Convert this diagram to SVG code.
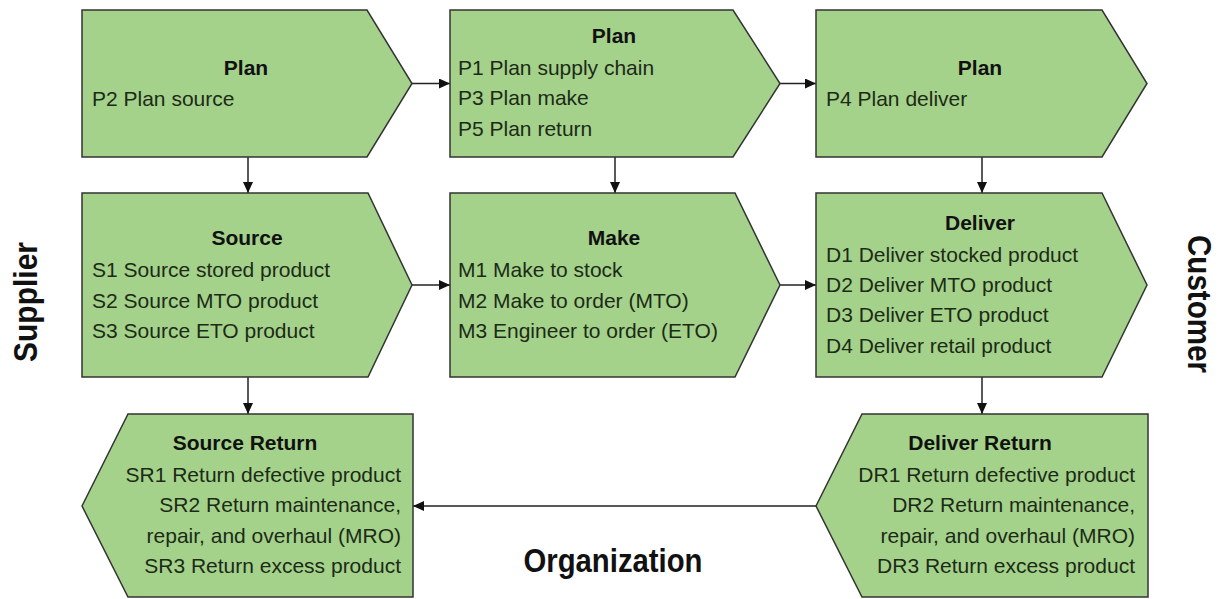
<svg xmlns="http://www.w3.org/2000/svg" width="1221" height="599" viewBox="0 0 1221 599">
<style>
.box{fill:#a4d28b;stroke:#333;stroke-width:1.5}
.t{font-family:"Liberation Sans",Arial,sans-serif;font-size:21px;fill:#1d2a17}
.h{font-family:"Liberation Sans",Arial,sans-serif;font-size:21px;font-weight:bold;fill:#111;text-anchor:middle}
.r{text-anchor:end}
.lab{font-family:"Liberation Sans",Arial,sans-serif;font-size:34px;font-weight:bold;fill:#111;text-anchor:middle}
.c{stroke:#222;stroke-width:1.5;fill:none;marker-end:url(#ah)}
</style>
<defs>
<marker id="ah" markerUnits="userSpaceOnUse" markerWidth="12" markerHeight="10" refX="11" refY="5" orient="auto">
<path d="M0,0 L11,5 L0,10 Z" fill="#111"/>
</marker>
</defs>
<rect width="1221" height="599" fill="#fff"/>
<g id="connectors">
<line class="c" x1="412" y1="83.5" x2="450" y2="83.5"/>
<line class="c" x1="780" y1="83.5" x2="816" y2="83.5"/>
<line class="c" x1="248" y1="157" x2="248" y2="193"/>
<line class="c" x1="615" y1="157" x2="615" y2="193"/>
<line class="c" x1="982" y1="157" x2="982" y2="193"/>
<line class="c" x1="412" y1="285" x2="450" y2="285"/>
<line class="c" x1="780" y1="285" x2="816" y2="285"/>
<line class="c" x1="248" y1="377" x2="248" y2="414"/>
<line class="c" x1="982" y1="377" x2="982" y2="414"/>
<line class="c" x1="816" y1="506" x2="413" y2="506"/>
</g>
<g id="plan-source">
<polygon class="box" points="82,10 367,10 412,83.5 367,157 82,157"/>
<text class="h" x="246" y="75">Plan</text>
<text class="t" x="92" y="106">P2 Plan source</text>
</g>
<g id="plan-main">
<polygon class="box" points="450,10 733,10 780,83.5 733,157 450,157"/>
<text class="h" x="614" y="43">Plan</text>
<text class="t" x="458" y="75">P1 Plan supply chain</text>
<text class="t" x="458" y="105">P3 Plan make</text>
<text class="t" x="458" y="136">P5 Plan return</text>
</g>
<g id="plan-deliver">
<polygon class="box" points="816,10 1102,10 1147,83.5 1102,157 816,157"/>
<text class="h" x="980" y="75">Plan</text>
<text class="t" x="826" y="106">P4 Plan deliver</text>
</g>
<g id="source">
<polygon class="box" points="82,193 368,193 412,285 368,377 82,377"/>
<text class="h" x="247" y="245">Source</text>
<text class="t" x="92" y="277">S1 Source stored product</text>
<text class="t" x="92" y="308">S2 Source MTO product</text>
<text class="t" x="92" y="338">S3 Source ETO product</text>
</g>
<g id="make">
<polygon class="box" points="450,193 735,193 780,285 735,377 450,377"/>
<text class="h" x="614" y="245">Make</text>
<text class="t" x="458" y="277">M1 Make to stock</text>
<text class="t" x="458" y="308">M2 Make to order (MTO)</text>
<text class="t" x="458" y="338">M3 Engineer to order (ETO)</text>
</g>
<g id="deliver">
<polygon class="box" points="816,193 1102,193 1147,285 1102,377 816,377"/>
<text class="h" x="980" y="230">Deliver</text>
<text class="t" x="826" y="262">D1 Deliver stocked product</text>
<text class="t" x="826" y="292">D2 Deliver MTO product</text>
<text class="t" x="826" y="322">D3 Deliver ETO product</text>
<text class="t" x="826" y="353">D4 Deliver retail product</text>
</g>
<g id="source-return">
<polygon class="box" points="82,506 128,414 413,414 413,597 128,597"/>
<text class="h" x="245" y="450">Source Return</text>
<text class="t r" x="401" y="482">SR1 Return defective product</text>
<text class="t r" x="401" y="512">SR2 Return maintenance,</text>
<text class="t r" x="401" y="543">repair, and overhaul (MRO)</text>
<text class="t r" x="401" y="573">SR3 Return excess product</text>
</g>
<g id="deliver-return">
<polygon class="box" points="816,506 862,414 1148,414 1148,597 862,597"/>
<text class="h" x="980" y="450">Deliver Return</text>
<text class="t r" x="1135" y="482">DR1 Return defective product</text>
<text class="t r" x="1135" y="512">DR2 Return maintenance,</text>
<text class="t r" x="1135" y="543">repair, and overhaul (MRO)</text>
<text class="t r" x="1135" y="573">DR3 Return excess product</text>
</g>
<g id="labels">
<text class="lab" transform="translate(37,302) rotate(-90)" textLength="120" lengthAdjust="spacingAndGlyphs">Supplier</text>
<text class="lab" transform="translate(1188,304) rotate(90)" textLength="138" lengthAdjust="spacingAndGlyphs">Customer</text>
<text class="lab" x="613" y="572" textLength="179" lengthAdjust="spacingAndGlyphs">Organization</text>
</g>
</svg>
